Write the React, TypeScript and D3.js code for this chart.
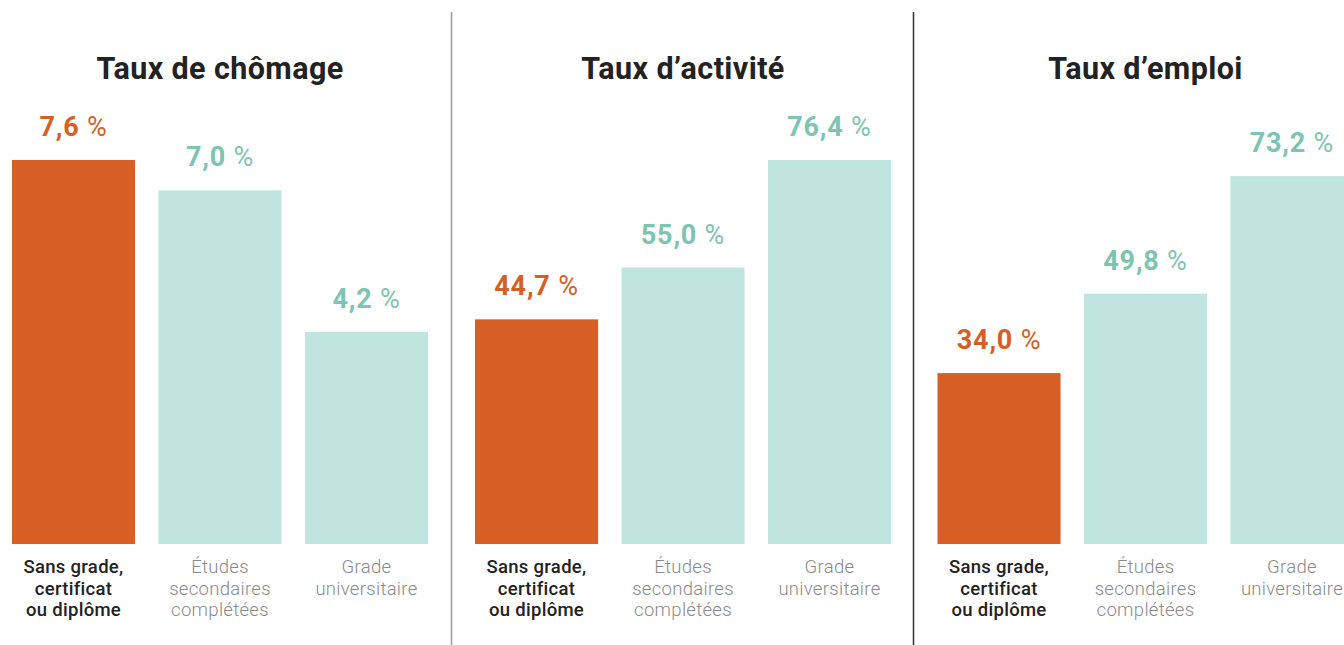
import React from "react";
import * as d3 from "d3";

const panelTitles = ["Taux de chômage", "Taux d’activité", "Taux d’emploi"];
const categories = ["sans", "etudes", "grade"];
const categoryLines = [
  ["Sans grade,", "certificat", "ou diplôme"],
  ["Études", "secondaires", "complétées"],
  ["Grade", "universitaire"],
];
const chomage = [7.6, 7.0, 4.2];
const activite = [44.7, 55.0, 76.4];
const emploi = [34.0, 49.8, 73.2];
const panelValues = [chomage, activite, emploi];
const panelMax = [7.6, 76.4, 76.4];

const W = 1344;
const H = 645;
const ORANGE = "#D65F25";
const TEAL_BAR = "#C0E5DE";
const TEAL_TEXT = "#7DC4B1";
const FONT = "Roboto, 'Noto Sans', sans-serif";

export default function App() {
  const panelStarts = [12, 475, 937.5];
  const barTop = 160;
  const barBottom = 544;
  const dividers = [
    { x: 451.5, color: "#9a9a9a" },
    { x: 913.5, color: "#333333" },
  ];
  return (
    <svg
      width={W}
      height={H}
      style={{ position: "absolute", left: 0, top: 0, background: "#fff" }}
      fontFamily={FONT}
    >
      {dividers.map((d, i) => (
        <line key={i} x1={d.x} x2={d.x} y1={12} y2={H} stroke={d.color} strokeWidth={1.5} />
      ))}
      {panelValues.map((vals, p) => {
        const x0 = panelStarts[p];
        const x = d3
          .scaleBand<string>()
          .domain(categories)
          .range([x0, x0 + 416])
          .paddingInner(0.16)
          .paddingOuter(0);
        const y = d3.scaleLinear().domain([0, panelMax[p]]).range([barBottom, barTop]);
        const cx = x0 + 416 / 2;
        return (
          <g key={p}>
            <text
              x={cx}
              y={79}
              textAnchor="middle"
              fontSize={30.5}
              fontWeight={700}
              letterSpacing={0.4}
              fill="#222"
            >
              {panelTitles[p]}
            </text>
            {vals.map((v, i) => {
              const bx = x(categories[i])!;
              const bw = x.bandwidth();
              const col = i === 0 ? ORANGE : TEAL_BAR;
              const tcol = i === 0 ? ORANGE : TEAL_TEXT;
              const label = d3.format(".1f")(v).replace(".", ",");
              return (
                <g key={i}>
                  <rect x={bx} y={y(v)} width={bw} height={barBottom - y(v)} fill={col} />
                  <text
                    x={bx + bw / 2}
                    y={y(v) - 24}
                    textAnchor="middle"
                    fontSize={27}
                    letterSpacing={0.8}
                    fill={tcol}
                  >
                    <tspan fontWeight={700}>{label}</tspan>
                    <tspan fontWeight={400}>{"\u00a0%"}</tspan>
                  </text>
                  <text
                    x={bx + bw / 2}
                    textAnchor="middle"
                    fontSize={18.5}
                    letterSpacing={0.3}
                    fontWeight={i === 0 ? 500 : 300}
                    fill={i === 0 ? "#222" : "#8a8a8a"}
                  >
                    {categoryLines[i].map((ln, k) => (
                      <tspan key={k} x={bx + bw / 2} y={573 + k * 21.5}>
                        {ln}
                      </tspan>
                    ))}
                  </text>
                </g>
              );
            })}
          </g>
        );
      })}
    </svg>
  );
}
